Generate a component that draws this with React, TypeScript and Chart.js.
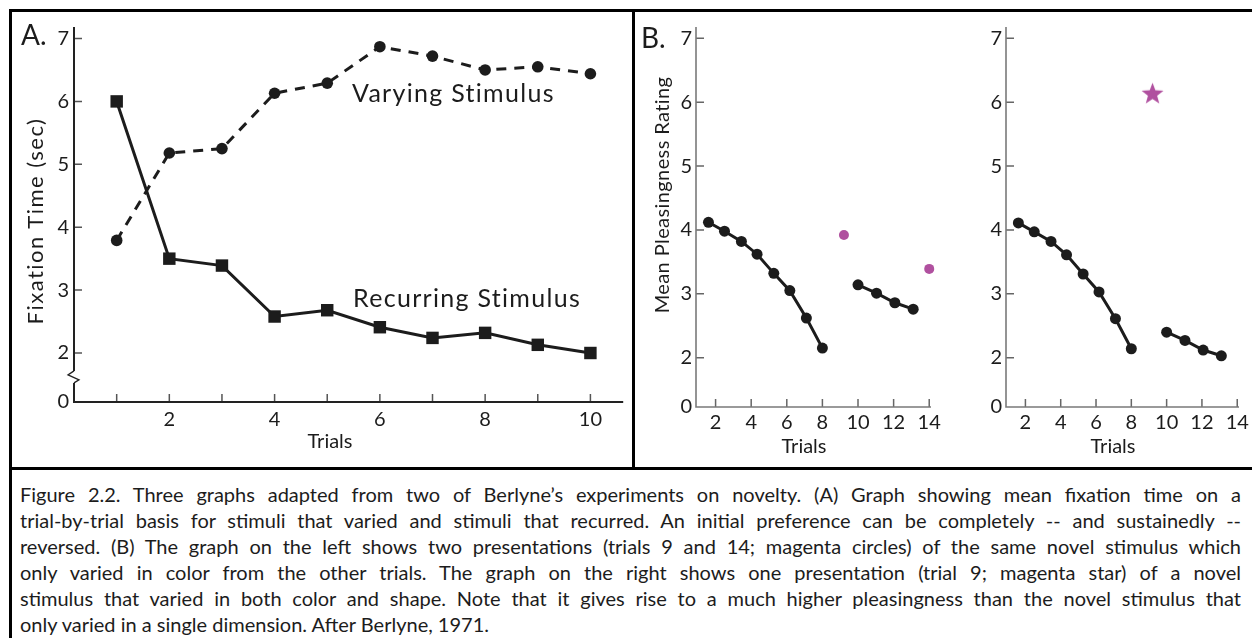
import React, { useEffect, useRef } from 'react';
import { Chart, registerables } from 'chart.js';

Chart.register(...registerables);

// ---------------- DATA ----------------
// Panel A: fixation time per trial
const trialsA = [1, 2, 3, 4, 5, 6, 7, 8, 9, 10];
const varyingStimulus = [3.79, 5.18, 5.25, 6.13, 6.29, 6.87, 6.72, 6.5, 6.55, 6.44];
const recurringStimulus = [6.0, 3.5, 3.39, 2.58, 2.68, 2.41, 2.24, 2.32, 2.13, 2.0];
const xTickMarksA = [1, 2, 3, 4, 5, 6, 7, 8, 9, 10];
const xTickLabelsA = [2, 4, 6, 8, 10];
const yTicksA = [2, 3, 4, 5, 6, 7];

// Panel B: mean pleasingness rating
const trialsB1 = [1.6, 2.5, 3.45, 4.33, 5.27, 6.17, 7.1, 8.0];
const trialsB2 = [10.0, 11.04, 12.07, 13.1];
const ratingsLeft1 = [4.12, 3.98, 3.82, 3.62, 3.32, 3.05, 2.62, 2.15];
const ratingsLeft2 = [3.14, 3.01, 2.86, 2.76];
const novelTrialsLeft = [9.21, 14.0];
const novelRatingsLeft = [3.92, 3.39];
const ratingsRight1 = [4.11, 3.97, 3.82, 3.61, 3.31, 3.03, 2.61, 2.14];
const ratingsRight2 = [2.4, 2.27, 2.12, 2.03];
const novelTrialsRight = [9.2];
const novelRatingsRight = [6.14];
const xTicksB = [2, 4, 6, 8, 10, 12, 14];
const yTicksB = [2, 3, 4, 5, 6, 7];

const captionLines = [
  'Figure 2.2. Three graphs adapted from two of Berlyne\u2019s experiments on novelty. (A) Graph showing mean fixation time on a',
  'trial-by-trial basis for stimuli that varied and stimuli that recurred. An initial preference can be completely -- and sustainedly --',
  'reversed. (B) The graph on the left shows two presentations (trials 9 and 14; magenta circles) of the same novel stimulus which',
  'only varied in color from the other trials. The graph on the right shows one presentation (trial 9; magenta star) of a novel',
  'stimulus that varied in both color and shape. Note that it gives rise to a much higher pleasingness than the novel stimulus that',
  'only varied in a single dimension. After Berlyne, 1971.',
];

// ---------------- STYLE ----------------
const FONT = 'Lato, "DejaVu Sans", sans-serif';
const INK = '#1c1c1c';
const MAGENTA = '#b0509f';

Chart.defaults.font.family = FONT;
Chart.defaults.color = INK;

function pts(xs: number[], ys: number[]) {
  return xs.map((x, i) => ({ x, y: ys[i] }));
}

function makeStar(r: number, color: string) {
  const c = document.createElement('canvas');
  const s = Math.ceil(2 * r + 2);
  c.width = s;
  c.height = s;
  const ctx = c.getContext('2d')!;
  ctx.fillStyle = color;
  ctx.beginPath();
  for (let i = 0; i < 10; i++) {
    const rad = i % 2 === 0 ? r : r * 0.42;
    const a = -Math.PI / 2 + (i * Math.PI) / 5;
    ctx.lineTo(s / 2 + rad * Math.cos(a), s / 2 + 1 + rad * Math.sin(a));
  }
  ctx.closePath();
  ctx.fill();
  return c;
}

type AxesCfg = {
  xTicks: number[];
  yTicks: number[];
  axisColor: string;
  axisWidth: number;
  tickColor: string;
  tickWidth: number;
  tickLen: number;
  breakAt?: number;
};

function makeAxesPlugin(cfg: AxesCfg) {
  return {
    id: 'inwardAxes',
    beforeDatasetsDraw(chart: any) {
      const { ctx, chartArea: a, scales } = chart;
      const xs = scales.x;
      const ys = scales.y;
      ctx.save();
      ctx.lineCap = 'butt';
      ctx.strokeStyle = cfg.tickColor;
      ctx.lineWidth = cfg.tickWidth;
      ctx.beginPath();
      for (const v of cfg.xTicks) {
        const p = xs.getPixelForValue(v);
        ctx.moveTo(p, a.bottom);
        ctx.lineTo(p, a.bottom - cfg.tickLen);
      }
      for (const v of cfg.yTicks) {
        const p = ys.getPixelForValue(v);
        ctx.moveTo(a.left, p);
        ctx.lineTo(a.left + cfg.tickLen, p);
      }
      ctx.stroke();

      ctx.strokeStyle = cfg.axisColor;
      ctx.lineWidth = cfg.axisWidth;
      ctx.beginPath();
      ctx.moveTo(a.left - cfg.axisWidth / 2, a.bottom);
      ctx.lineTo(a.right, a.bottom);
      if (cfg.breakAt !== undefined) {
        const yb = ys.getPixelForValue(cfg.breakAt);
        ctx.moveTo(a.left, a.top);
        ctx.lineTo(a.left, yb - 6);
        ctx.moveTo(a.left, yb + 6);
        ctx.lineTo(a.left, a.bottom);
        ctx.stroke();
        ctx.lineWidth = 1.3;
        ctx.beginPath();
        ctx.moveTo(a.left, yb - 6);
        ctx.lineTo(a.left - 6, yb - 2);
        ctx.lineTo(a.left + 5, yb + 3);
        ctx.lineTo(a.left, yb + 6);
      } else {
        ctx.moveTo(a.left, a.top);
        ctx.lineTo(a.left, a.bottom);
      }
      ctx.stroke();
      ctx.restore();
    },
  };
}

type ScaleCfg = {
  xMin: number;
  xMax: number;
  yMin: number;
  yMax: number;
  xLabels: number[];
  yLabels: number[];
  yWidth: number;
  xHeight: number;
  padX: number;
  padY: number;
  padding: { left: number; right: number; top: number; bottom: number };
};

function buildOptions(s: ScaleCfg) {
  const tickFont = { family: FONT, size: 20 };
  return {
    responsive: false,
    animation: false as const,
    events: [],
    layout: { padding: s.padding },
    plugins: { legend: { display: false }, tooltip: { enabled: false }, title: { display: false } },
    scales: {
      x: {
        type: 'linear' as const,
        min: s.xMin,
        max: s.xMax,
        bounds: 'data' as const,
        grid: { display: false, drawTicks: false },
        border: { display: false },
        afterBuildTicks: (sc: any) => {
          sc.ticks = s.xLabels.map((v) => ({ value: v }));
        },
        ticks: {
          autoSkip: false,
          maxRotation: 0,
          padding: s.padX,
          color: INK,
          font: tickFont,
          callback: (v: any) => String(v),
        },
        afterFit: (sc: any) => {
          sc.height = s.xHeight;
          sc.paddingLeft = 0;
          sc.paddingRight = 0;
        },
      },
      y: {
        type: 'linear' as const,
        min: s.yMin,
        max: s.yMax,
        bounds: 'data' as const,
        grid: { display: false, drawTicks: false },
        border: { display: false },
        afterBuildTicks: (sc: any) => {
          sc.ticks = [{ value: s.yMin }, ...s.yLabels.map((v) => ({ value: v }))];
        },
        ticks: {
          autoSkip: false,
          padding: s.padY,
          color: INK,
          font: tickFont,
          callback: (v: any) => (v === s.yMin ? '0' : String(v)),
        },
        afterFit: (sc: any) => {
          sc.width = s.yWidth;
          sc.paddingTop = 0;
          sc.paddingBottom = 0;
        },
      },
    },
  };
}

function ChartCanvas({ make, left, top, width, height }: { make: () => any; left: number; top: number; width: number; height: number }) {
  const ref = useRef<HTMLCanvasElement | null>(null);
  useEffect(() => {
    if (!ref.current) return;
    const chart = new Chart(ref.current, make());
    return () => chart.destroy();
  }, []);
  return (
    <canvas
      ref={ref}
      width={width}
      height={height}
      style={{ position: 'absolute', left, top, width, height }}
    />
  );
}

// ---------------- CHART CONFIGS ----------------
const yMinA = 1.221;
const axisBreakA = 1.62;

function makeChartA() {
  return {
    type: 'scatter' as const,
    data: {
      datasets: [
        {
          data: pts(trialsA, varyingStimulus),
          showLine: true,
          borderColor: INK,
          borderWidth: 3,
          borderDash: [10, 8],
          pointStyle: 'circle',
          pointRadius: 5.8,
          pointBackgroundColor: INK,
          pointBorderWidth: 0,
          clip: false,
        },
        {
          data: pts(trialsA, recurringStimulus),
          showLine: true,
          borderColor: INK,
          borderWidth: 3,
          pointStyle: 'rect',
          pointRadius: 8.8,
          pointBackgroundColor: INK,
          pointBorderWidth: 0,
          clip: false,
        },
      ],
    },
    options: buildOptions({
      xMin: 0.189,
      xMax: 10.623,
      yMin: yMinA,
      yMax: 7.183,
      xLabels: xTickLabelsA,
      yLabels: yTicksA,
      yWidth: 62,
      xHeight: 66,
      padX: 6,
      padY: 5,
      padding: { left: 0, right: 5, top: 15, bottom: 0 },
    }),
    plugins: [
      makeAxesPlugin({
        xTicks: xTickMarksA,
        yTicks: yTicksA,
        axisColor: '#222',
        axisWidth: 2,
        tickColor: '#555',
        tickWidth: 1.5,
        tickLen: 8,
        breakAt: axisBreakA,
      }),
    ],
  };
}

const yMinB = 1.228;

function bDataset(xs: number[], ys: number[]) {
  return {
    data: pts(xs, ys),
    showLine: true,
    borderColor: INK,
    borderWidth: 3,
    pointStyle: 'circle',
    pointRadius: 5.5,
    pointBackgroundColor: INK,
    pointBorderWidth: 0,
    clip: false,
  };
}

function makeChartBLeft() {
  return {
    type: 'scatter' as const,
    data: {
      datasets: [
        bDataset(trialsB1, ratingsLeft1),
        bDataset(trialsB2, ratingsLeft2),
        {
          data: pts(novelTrialsLeft, novelRatingsLeft),
          showLine: false,
          pointStyle: 'circle',
          pointRadius: 5,
          pointBackgroundColor: MAGENTA,
          pointBorderWidth: 0,
          clip: false,
        },
      ],
    },
    options: buildOptions({
      xMin: 0.9,
      xMax: 14.1,
      yMin: yMinB,
      yMax: 7.177,
      xLabels: xTicksB,
      yLabels: yTicksB,
      yWidth: 60,
      xHeight: 61,
      padX: 4,
      padY: 4,
      padding: { left: 0, right: 35, top: 15, bottom: 0 },
    }),
    plugins: [
      makeAxesPlugin({
        xTicks: xTicksB,
        yTicks: yTicksB,
        axisColor: '#7a7a7a',
        axisWidth: 1.6,
        tickColor: '#666',
        tickWidth: 1.5,
        tickLen: 8,
      }),
    ],
  };
}

function makeChartBRight() {
  return {
    type: 'scatter' as const,
    data: {
      datasets: [
        bDataset(trialsB1, ratingsRight1),
        bDataset(trialsB2, ratingsRight2),
        {
          data: pts(novelTrialsRight, novelRatingsRight),
          showLine: false,
          pointStyle: makeStar(11.5, MAGENTA),
          pointRadius: 12,
          clip: false,
        },
      ],
    },
    options: buildOptions({
      xMin: 0.9,
      xMax: 14.1,
      yMin: yMinB,
      yMax: 7.177,
      xLabels: xTicksB,
      yLabels: yTicksB,
      yWidth: 40,
      xHeight: 61,
      padX: 4,
      padY: 4,
      padding: { left: 0, right: 11, top: 15, bottom: 0 },
    }),
    plugins: [
      makeAxesPlugin({
        xTicks: xTicksB,
        yTicks: yTicksB,
        axisColor: '#7a7a7a',
        axisWidth: 1.6,
        tickColor: '#666',
        tickWidth: 1.5,
        tickLen: 8,
      }),
    ],
  };
}

// ---------------- LAYOUT ----------------
function Label({ text, x, y, size, rotate, anchor, spacing }: { text: string; x: number; y: number; size: number; rotate?: boolean; anchor?: 'left' | 'center'; spacing?: number }) {
  const tx = anchor === 'left' ? '0' : '-50%';
  return (
    <div
      style={{
        position: 'absolute',
        left: x,
        top: y,
        fontFamily: FONT,
        fontSize: size,
        letterSpacing: spacing ? `${spacing}px` : undefined,
        lineHeight: 1,
        color: INK,
        whiteSpace: 'nowrap',
        transform: `translate(${tx}, -50%)${rotate ? ' rotate(-90deg)' : ''}`,
        transformOrigin: rotate ? 'center center' : undefined,
      }}
    >
      {text}
    </div>
  );
}

function Rule({ x, y, w, h }: { x: number; y: number; w: number; h: number }) {
  return <div style={{ position: 'absolute', left: x, top: y, width: w, height: h, background: '#000' }} />;
}

export default function App() {
  return (
    <div style={{ position: 'absolute', left: 0, top: 0, width: 1252, height: 638, background: '#fff', overflow: 'hidden' }}>
      <Rule x={9} y={9} w={1243} h={3} />
      <Rule x={9} y={9} w={3} h={629} />
      <Rule x={632} y={9} w={3} h={461} />
      <Rule x={9} y={467} w={1243} h={3} />

      <ChartCanvas make={makeChartA} left={12} top={12} width={620} height={456} />
      <ChartCanvas make={makeChartBLeft} left={636} top={12} width={330} height={456} />
      <ChartCanvas make={makeChartBRight} left={966} top={12} width={286} height={456} />

      <Label text="A." x={21} y={34} size={28} anchor="left" />
      <Label text="B." x={641} y={37} size={28} anchor="left" />
      <Label text="Varying Stimulus" x={352} y={92} size={25} spacing={1.3} anchor="left" />
      <Label text="Recurring Stimulus" x={353} y={297} size={25} spacing={1.3} anchor="left" />
      <Label text="Fixation Time (sec)" x={35} y={221} size={22} spacing={1.5} rotate />
      <Label text="Trials" x={330} y={440} size={20} />
      <Label text="Mean Pleasingness Rating" x={661} y={195} size={20} spacing={0.4} rotate />
      <Label text="Trials" x={804} y={445} size={20} />
      <Label text="Trials" x={1113} y={445} size={20} />

      {captionLines.map((line, i) => (
        <div
          key={i}
          style={{
            position: 'absolute',
            left: 20,
            top: 481 + i * 26,
            width: 1221,
            fontFamily: FONT,
            fontSize: 20,
            lineHeight: '26px',
            color: INK,
            whiteSpace: 'nowrap',
            textAlign: 'justify',
            textAlignLast: i < captionLines.length - 1 ? 'justify' : 'left',
          }}
        >
          {line}
        </div>
      ))}
    </div>
  );
}
